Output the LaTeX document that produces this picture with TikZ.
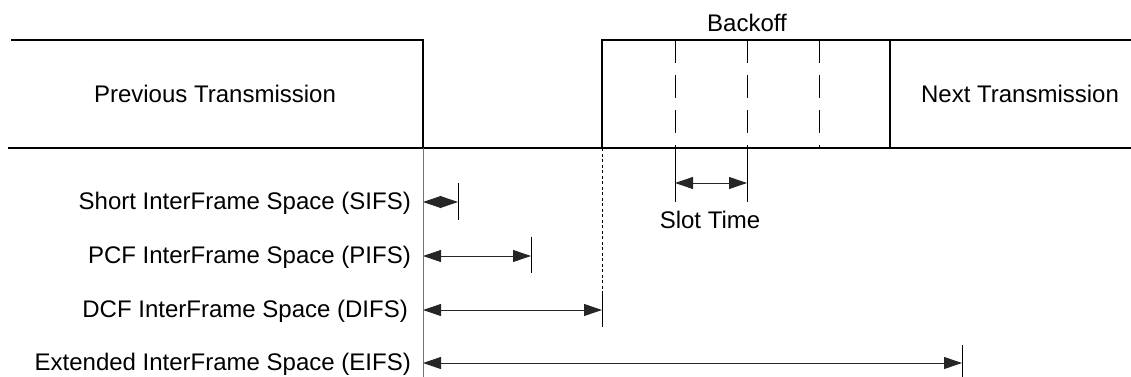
\documentclass[tikz,border=0pt]{standalone}
\usepackage{fontspec}
\setmainfont{Liberation Sans}
\usetikzlibrary{arrows.meta}
\begin{document}
\begin{tikzpicture}[x=1pt,y=-1pt,
  frame/.style={line width=1.6pt,black},
  axis/.style={line width=1pt,black!55},
  tick/.style={line width=0.9pt,black},
  slotline/.style={line width=0.9pt,black,dash pattern=on 23pt off 12pt},
  span/.style={line width=0.9pt,black!85,{Triangle[length=18pt,width=12pt]}-{Triangle[length=18pt,width=12pt]}},
  lbl/.style={font=\fontsize{24}{29}\selectfont,inner sep=0pt},
  tag/.style={lbl,anchor=east}]
\useasboundingbox (0,0) rectangle (1131,377);

% medium timeline
\draw[frame] (11,40) -- (423,40) -- (423,148);
\draw[frame] (8,148) -- (1131,148);
\draw[frame] (602,148) -- (602,40) -- (1131,40);
\draw[frame] (890,40) -- (890,148);
\foreach \sx in {675,747,819} \draw[slotline] (\sx,40) -- (\sx,148);

\node[lbl] (prev) at (215,94) {Previous Transmission};
\node[lbl] (next) at (1020,94) {Next Transmission};
\node[lbl] (backoff) at (747,23) {Backoff};

% reference line at the end of the previous frame
\draw[axis] (423,148) -- (423,377);
\draw[line width=0.8pt,dash pattern=on 3pt off 2.5pt] (602,148) -- (602,292);

% slot time
\coordinate (s1) at (675,183);
\coordinate (s2) at (747,183);
\draw[tick] (675,148) -- (675,202);
\draw[tick] (747,148) -- (747,202);
\draw[span] (s1) -- (s2);
\node[lbl] (slot) at (710,220) {Slot Time};

% interframe spaces
\node[tag] (sifs) at (411,203) {Short InterFrame Space (SIFS)};
\node[tag] (pifs) at (411,257) {PCF InterFrame Space (PIFS)};
\node[tag] (difs) at (408,311) {DCF InterFrame Space (DIFS)};
\node[tag] (eifs) at (411,364) {Extended InterFrame Space (EIFS)};

\coordinate (a1) at (423,202); \coordinate (b1) at (458,202);
\coordinate (a2) at (423,256); \coordinate (b2) at (531,256);
\coordinate (a3) at (423,310); \coordinate (b3) at (602,310);
\coordinate (a4) at (423,363); \coordinate (b4) at (962,363);

\draw[tick] (458,183) -- (458,220);
\draw[tick] (531,237) -- (531,273);
\draw[tick] (602,292) -- (602,327);
\draw[tick] (962,345) -- (962,377);

\draw[span] (a1) -- (b1);
\draw[span] (a2) -- (b2);
\draw[span] (a3) -- (b3);
\draw[span] (a4) -- (b4);
\end{tikzpicture}
\end{document}
